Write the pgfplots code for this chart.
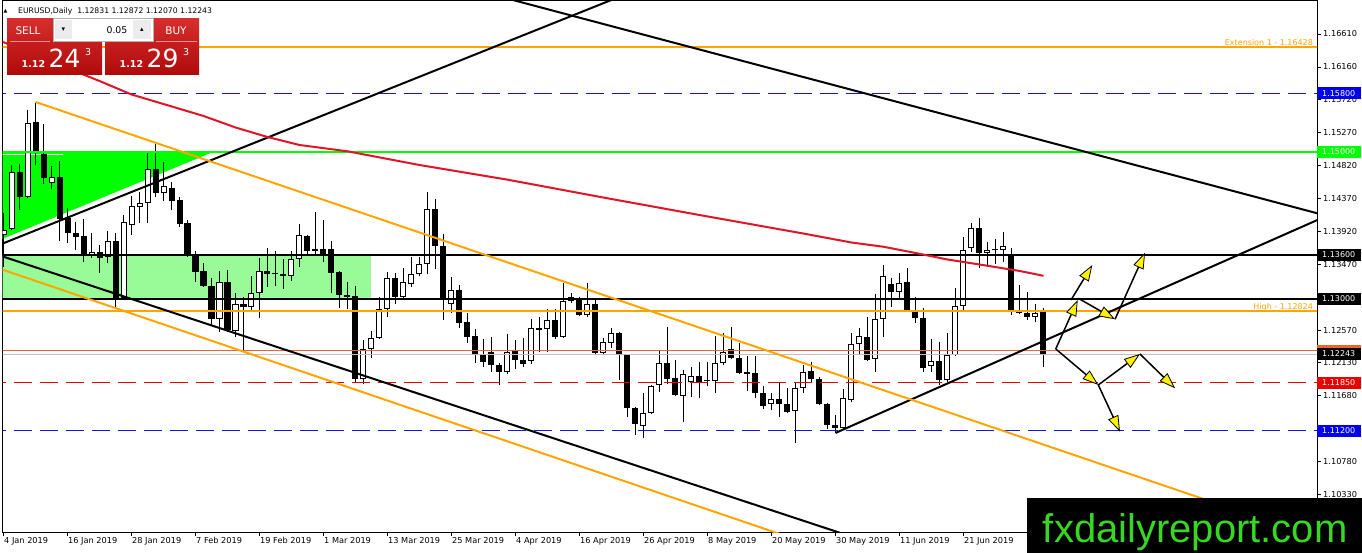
\documentclass[border=0pt]{standalone}
\usepackage{pgfplots}
\pgfplotsset{compat=1.18}
\usepackage{pgfplotstable}
\usepackage{fontspec}
\setmainfont{DejaVu Sans}
\newfontfamily\arialfont{Liberation Sans}
\usetikzlibrary{arrows.meta}
\definecolor{mtblue}{RGB}{20,20,235}
\definecolor{boxblue}{RGB}{0,0,235}
\definecolor{mtred}{RGB}{235,0,0}
\definecolor{mtgreen}{RGB}{0,255,0}
\definecolor{mtorange}{RGB}{255,165,0}
\definecolor{palegr}{RGB}{152,251,152}
\definecolor{mared}{RGB}{225,20,40}
\definecolor{thinor}{RGB}{235,100,50}
\definecolor{wmgreen}{RGB}{55,215,35}
\definecolor{pantop}{RGB}{215,45,45}
\definecolor{panbot}{RGB}{175,10,10}

\pgfplotstableread{
i O H L C
0 1.13868 1.14168 1.13431 1.13936
1 1.13949 1.14822 1.13936 1.14727
2 1.14727 1.14836 1.14209 1.14386
3 1.14386 1.15573 1.14372 1.15395
4 1.15409 1.15668 1.14822 1.15000
5 1.14972 1.15382 1.14563 1.14645
6 1.14577 1.14809 1.14495 1.14659
7 1.14659 1.14877 1.13786 1.14086
8 1.14099 1.14236 1.13758 1.13895
9 1.13895 1.14045 1.13663 1.13840
10 1.13854 1.14086 1.13499 1.13581
11 1.13581 1.13895 1.13554 1.13636
12 1.13636 1.13731 1.13349 1.13554
13 1.13568 1.13922 1.13486 1.13786
14 1.13786 1.13895 1.12886 1.12995
15 1.13008 1.14140 1.12995 1.14045
16 1.14004 1.14400 1.13868 1.14263
17 1.14250 1.14454 1.14031 1.14304
18 1.14304 1.14986 1.14031 1.14768
19 1.14768 1.15109 1.14386 1.14440
20 1.14440 1.14863 1.14331 1.14536
21 1.14509 1.14591 1.14209 1.14331
22 1.14345 1.14386 1.13977 1.14018
23 1.14031 1.14072 1.13568 1.13581
24 1.13581 1.13649 1.13227 1.13363
25 1.13377 1.13486 1.13158 1.13172
26 1.13172 1.13281 1.12640 1.12722
27 1.12722 1.13377 1.12545 1.13227
28 1.13227 1.13390 1.12545 1.12572
29 1.12558 1.13076 1.12476 1.12926
30 1.12926 1.13022 1.12299 1.12886
31 1.12886 1.13308 1.12831 1.13076
32 1.13076 1.13554 1.12735 1.13377
33 1.13377 1.13690 1.13158 1.13336
34 1.13336 1.13649 1.13172 1.13330
35 1.13336 1.13540 1.13131 1.13308
36 1.13308 1.13649 1.13240 1.13540
37 1.13540 1.14018 1.13431 1.13868
38 1.13854 1.13868 1.13581 1.13649
39 1.13677 1.14181 1.13581 1.13649
40 1.13677 1.14072 1.13499 1.13608
41 1.13677 1.13786 1.13076 1.13349
42 1.13363 1.13377 1.12872 1.13049
43 1.13049 1.13227 1.12858 1.13022
44 1.13036 1.13172 1.11849 1.11903
45 1.11903 1.12435 1.11835 1.12313
46 1.12313 1.12558 1.12190 1.12463
47 1.12463 1.13022 1.12449 1.12858
48 1.12858 1.13363 1.12749 1.13281
49 1.13281 1.13349 1.12926 1.13022
50 1.13022 1.13417 1.12981 1.13227
51 1.13199 1.13568 1.13158 1.13336
52 1.13336 1.13568 1.13308 1.13472
53 1.13472 1.14454 1.13336 1.14222
54 1.14222 1.14359 1.13404 1.13718
55 1.13718 1.13881 1.12708 1.12995
56 1.12926 1.13295 1.12804 1.13117
57 1.13117 1.13186 1.12599 1.12667
58 1.12681 1.12804 1.12394 1.12476
59 1.12490 1.12585 1.12122 1.12244
60 1.12244 1.12449 1.12067 1.12135
61 1.12272 1.12476 1.11999 1.12094
62 1.12094 1.12122 1.11822 1.11999
63 1.11999 1.12517 1.11972 1.12272
64 1.12285 1.12435 1.12040 1.12163
65 1.12163 1.12463 1.12067 1.12108
66 1.12149 1.12722 1.12108 1.12599
67 1.12599 1.12749 1.12272 1.12572
68 1.12585 1.12858 1.12272 1.12708
69 1.12708 1.12858 1.12449 1.12476
70 1.12476 1.13213 1.12463 1.12967
71 1.13022 1.13076 1.12940 1.12967
72 1.13008 1.13022 1.12763 1.12776
73 1.12776 1.13213 1.12749 1.12926
74 1.12926 1.12995 1.12231 1.12258
75 1.12258 1.12463 1.12244 1.12408
76 1.12394 1.12599 1.12326 1.12531
77 1.12531 1.12545 1.11890 1.12244
78 1.12231 1.12244 1.11385 1.11508
79 1.11508 1.11522 1.11140 1.11290
80 1.11262 1.11712 1.11099 1.11440
81 1.11440 1.11822 1.11426 1.11808
82 1.11822 1.12299 1.11726 1.12122
83 1.12122 1.12613 1.11835 1.11903
84 1.11917 1.12163 1.11672 1.11685
85 1.11672 1.12026 1.11317 1.11972
86 1.11863 1.12067 1.11658 1.11944
87 1.11944 1.12135 1.11644 1.11863
88 1.11876 1.12135 1.11808 1.11869
89 1.11876 1.12490 1.11712 1.12122
90 1.12122 1.12531 1.12094 1.12272
91 1.12313 1.12613 1.12176 1.12190
92 1.12190 1.12394 1.11972 1.11985
93 1.11999 1.12217 1.11740 1.11978
94 1.11985 1.12217 1.11644 1.11712
95 1.11712 1.11808 1.11494 1.11535
96 1.11562 1.11712 1.11481 1.11631
97 1.11631 1.11849 1.11385 1.11562
98 1.11562 1.11781 1.11440 1.11453
99 1.11467 1.11849 1.11030 1.11781
100 1.11781 1.12094 1.11712 1.11999
101 1.12013 1.12135 1.11849 1.11903
102 1.11903 1.11931 1.11549 1.11562
103 1.11562 1.11576 1.11221 1.11276
104 1.11276 1.11412 1.11167 1.11235
105 1.11235 1.11767 1.11221 1.11644
106 1.11617 1.12531 1.11590 1.12381
107 1.12381 1.12599 1.12244 1.12490
108 1.12476 1.12749 1.12149 1.12163
109 1.12176 1.13063 1.11999 1.12722
110 1.12722 1.13458 1.12476 1.13308
111 1.13199 1.13281 1.12886 1.13090
112 1.13090 1.13349 1.12995 1.13213
113 1.13227 1.13417 1.12817 1.12831
114 1.12845 1.13022 1.12667 1.12735
115 1.12735 1.12872 1.11999 1.12053
116 1.12081 1.12449 1.11999 1.12149
117 1.12149 1.12408 1.11822 1.11890
118 1.11890 1.12531 1.11863 1.12231
119 1.12231 1.13145 1.12217 1.12899
120 1.12899 1.13840 1.12817 1.13663
121 1.13690 1.14031 1.13636 1.13963
122 1.13963 1.14099 1.13417 1.13622
123 1.13622 1.13772 1.13431 1.13663
124 1.13663 1.13813 1.13472 1.13656
125 1.13663 1.13909 1.13499 1.13718
126 1.13581 1.13690 1.12776 1.12817
127 1.12817 1.13186 1.12790 1.12804
128 1.12804 1.13090 1.12708 1.12749
129 1.12749 1.12926 1.12681 1.12804
130 1.12831 1.12872 1.12070 1.12243
}\candles

\newcommand\pricebox[3]{%
  \fill[#2] ([yshift=-6pt]#1) rectangle ([xshift=44pt,yshift=6pt]#1);
  \node[anchor=west, inner sep=0pt, text=white, font=\fontsize{8}{9}\selectfont] at ([xshift=5pt]#1) {#3};}

\begin{document}
\begin{tikzpicture}[x=1pt,y=1pt]
\useasboundingbox (0,0) rectangle (1362,553);
\fill[white] (0,0) rectangle (1362,553);
\begin{axis}[
  at={(2.5pt,20.7pt)}, anchor=south west,
  scale only axis, width=1314.5pt, height=532.3pt,
  xmin=-0.125, xmax=164.19, ymin=1.09812, ymax=1.17073,
  axis line style={black, line width=0.8pt},
  tick align=outside,
  xtick pos=left, ytick pos=right,
  xticklabel pos=left, yticklabel pos=right,
  major tick length=4pt,
  tick style={black, line width=0.6pt},
  xtick={0,8,...,120},
  xticklabels={4 Jan 2019,16 Jan 2019,28 Jan 2019,7 Feb 2019,19 Feb 2019,1 Mar 2019,13 Mar 2019,25 Mar 2019,4 Apr 2019,16 Apr 2019,26 Apr 2019,8 May 2019,20 May 2019,30 May 2019,11 Jun 2019,21 Jun 2019},
  ytick={1.16610,1.16160,1.15720,1.15270,1.14820,1.14370,1.13920,1.13470,1.13020,1.12570,1.12130,1.11680,1.11230,1.10780,1.10330},
  yticklabels={1.16610,1.16160,1.15720,1.15270,1.14820,1.14370,1.13920,1.13470,1.13020,1.12570,1.12130,1.11680,1.11230,1.10780,1.10330},
  xticklabel style={anchor=north west, inner sep=0pt, xshift=0.5pt, yshift=-1pt, font=\fontsize{8.2}{9}\selectfont},
  yticklabel style={anchor=west, inner sep=0pt, xshift=2pt, font=\fontsize{8.2}{9}\selectfont},
]
% background zones
\addplot[fill=mtgreen, draw=none, forget plot] coordinates {(-1,1.15) (26.2,1.15) (-1,1.13775)} -- cycle;
\addplot[fill=palegr, draw=none, forget plot] coordinates {(-1,1.1360) (45.9,1.1360) (45.9,1.1300) (-1,1.1300)} -- cycle;
\addplot[white, line width=0.8pt, forget plot] coordinates {(-1,1.14972) (7.4,1.14972)};

% candles: wicks
\addplot[draw=none, mark=none, forget plot,
  error bars/.cd, y dir=plus, y explicit, error mark=none,
  error bar style={draw=black, line width=1pt, solid}]
  table[x=i, y=L, y error plus expr=\thisrow{H}-\thisrow{L}] {\candles};
% bodies
\addplot[draw=none, mark=none, forget plot,
  error bars/.cd, y dir=plus, y explicit, error mark=none,
  error bar style={draw=black, line width=6pt, solid}]
  table[x=i, y expr={min(\thisrow{O},\thisrow{C})}, y error plus expr={max(abs(\thisrow{C}-\thisrow{O}),0.000136)}] {\candles};
% white interior of bullish bodies
\addplot[draw=none, mark=none, forget plot,
  restrict expr to domain={\thisrow{C}-\thisrow{O}}{0.0003:1},
  error bars/.cd, y dir=plus, y explicit, error mark=none,
  error bar style={draw=white, line width=4pt, solid}]
  table[x=i, y expr={\thisrow{O}+0.000136}, y error plus expr={\thisrow{C}-\thisrow{O}-0.000272}] {\candles};

% horizontal levels
\addplot[mtorange, line width=2pt, forget plot] coordinates {(-2,1.16428) (170,1.16428)};
\addplot[mtblue, line width=1pt, dash pattern=on 18pt off 8pt, forget plot] coordinates {(-2,1.158) (170,1.158)};
\addplot[mtgreen, line width=2pt, forget plot] coordinates {(-2,1.15) (170,1.15)};
\addplot[black, line width=2pt, forget plot] coordinates {(-2,1.136) (170,1.136)};
\addplot[black, line width=2pt, forget plot] coordinates {(-2,1.130) (170,1.130)};
\addplot[mtorange, line width=2pt, forget plot] coordinates {(-2,1.12824) (170,1.12824)};
\addplot[thinor, line width=0.8pt, forget plot] coordinates {(-2,1.12290) (170,1.12290)};
\addplot[gray!50, line width=0.8pt, forget plot] coordinates {(-2,1.12243) (170,1.12243)};
\addplot[mtred, line width=1pt, dash pattern=on 18pt off 8pt, forget plot] coordinates {(-2,1.1185) (170,1.1185)};
\addplot[mtblue, line width=1pt, dash pattern=on 18pt off 8pt, forget plot] coordinates {(-2,1.112) (170,1.112)};

% trend lines and channels
\addplot[black, line width=2pt, forget plot] coordinates {(60,1.17179) (166,1.14112)};
\addplot[black, line width=2pt, forget plot] coordinates {(-1,1.13607) (105,1.09789)};
\addplot[black, line width=2pt, forget plot] coordinates {(-1,1.13712) (80,1.17248)};
\addplot[black, line width=2pt, forget plot] coordinates {(104,1.11167) (166,1.14157)};
\addplot[mtorange, line width=2pt, forget plot] coordinates {(4,1.15682) (166,1.09673)};
\addplot[mtorange, line width=2pt, forget plot] coordinates {(-1,1.13427) (100,1.09679)};

% moving average
\addplot[mared, line width=2pt, forget plot] coordinates {
(-1,1.16542) (5,1.16274) (12,1.15968) (16,1.15784) (20,1.15654) (25,1.15491) (29,1.15334)
(33,1.15204) (37,1.15095) (43,1.15009) (52,1.14822) (63,1.14622) (75,1.14378) (87,1.14140)
(100,1.13887) (106,1.13765) (110,1.13707) (114,1.13622) (118,1.13533) (122,1.13465) (127,1.13377) (130,1.13311)};

% scenario arrows
\pgfplotsset{scen/.style={black, line width=1.5pt, forget plot, -{Triangle[length=16pt, width=11pt, fill=yellow, line width=0.8pt]}}}
\addplot[scen] coordinates {(131.53,1.12313) (134.28,1.12981)};
\addplot[scen] coordinates {(133.44,1.12981) (136.10,1.13458)};
\addplot[scen] coordinates {(134.35,1.13004) (138.94,1.12718)};
\addplot[scen] coordinates {(138.94,1.12718) (142.69,1.13626)};
\addplot[scen] coordinates {(131.53,1.12313) (136.85,1.11822)};
\addplot[scen] coordinates {(136.85,1.11822) (142.06,1.12244)};
\addplot[scen] coordinates {(142.06,1.12244) (146.44,1.11777)};
\addplot[scen] coordinates {(136.85,1.11822) (139.56,1.11185)};

% in-chart labels
\node[anchor=base east, inner sep=0pt, text=mtorange, font=\fontsize{8}{9}\selectfont, yshift=2pt] at (axis cs:163.7,1.16428) {Extension 1 - 1.16428};
\node[anchor=base east, inner sep=0pt, text=mtorange, font=\fontsize{8}{9}\selectfont, yshift=2pt] at (axis cs:163.7,1.12824) {High - 1.12824};

\coordinate (b1) at (axis cs:164.19,1.158);
\coordinate (b2) at (axis cs:164.19,1.150);
\coordinate (b3) at (axis cs:164.19,1.136);
\coordinate (b4) at (axis cs:164.19,1.130);
\coordinate (b5) at (axis cs:164.19,1.12290);
\coordinate (b6) at (axis cs:164.19,1.12243);
\coordinate (b7) at (axis cs:164.19,1.1185);
\coordinate (b8) at (axis cs:164.19,1.112);
\end{axis}

% price boxes on the right scale
\pricebox{b1}{boxblue}{1.15800}
\pricebox{b2}{mtgreen}{1.15000}
\pricebox{b3}{black}{1.13600}
\pricebox{b4}{black}{1.13000}
\fill[thinor] ([yshift=-6pt]b5) rectangle ([xshift=44pt,yshift=6pt]b5);
\pricebox{b6}{black}{1.12243}
\pricebox{b7}{mtred}{1.11850}
\pricebox{b8}{boxblue}{1.11200}

% header
\node[anchor=base west, inner sep=0pt, font=\fontsize{5}{6}\selectfont] at (3.5,540) {▲};
\node[anchor=base west, inner sep=0pt, font=\fontsize{7.7}{9}\selectfont] at (18,539.5) {EURUSD,Daily\ \ 1.12831 1.12872 1.12070 1.12243};

% trade panel
\shade[top color=pantop, bottom color=panbot] (7,534) rectangle (102,478);
\shade[top color=pantop, bottom color=panbot] (105,534) rectangle (199,478);
\fill[white] (53,535) rectangle (153,512);
\draw[gray!60, line width=0.6pt] (53,535) rectangle (153,512);
\fill[gray!15] (55,533) rectangle (72,514);
\fill[gray!15] (133,533) rectangle (151,514);
\node[inner sep=0pt, font=\fontsize{7}{8}\selectfont] at (63.5,523.5) {▾};
\node[inner sep=0pt, font=\fontsize{7}{8}\selectfont] at (142,523.5) {▴};
\node[anchor=east, inner sep=0pt, font=\fontsize{9.3}{11}\selectfont] at (127.5,523) {0.05};
\node[inner sep=0pt, text=white, font=\fontsize{10.5}{12}\selectfont] at (28,522) {SELL};
\node[inner sep=0pt, text=white, font=\fontsize{10.5}{12}\selectfont] at (176,522) {BUY};
\draw[white, opacity=0.5, line width=0.6pt] (10,511.5) -- (50,511.5);
\draw[white, opacity=0.5, line width=0.6pt] (156,511.5) -- (197,511.5);
\node[anchor=base west, inner sep=0pt, text=white, font=\bfseries\fontsize{9.5}{11}\selectfont] at (21.5,485) {1.12};
\node[anchor=base west, inner sep=0pt, text=white, font=\fontsize{25}{28}\selectfont] at (48.5,485) {24};
\node[anchor=base west, inner sep=0pt, text=white, font=\fontsize{9.5}{11}\selectfont] at (85,497) {3};
\node[anchor=base west, inner sep=0pt, text=white, font=\bfseries\fontsize{9.5}{11}\selectfont] at (119.5,485) {1.12};
\node[anchor=base west, inner sep=0pt, text=white, font=\fontsize{25}{28}\selectfont] at (146.5,485) {29};
\node[anchor=base west, inner sep=0pt, text=white, font=\fontsize{9.5}{11}\selectfont] at (183,497) {3};

% watermark
\fill[black] (1026.5,0) rectangle (1362,54.5);
\node[anchor=base west, inner sep=0pt, text=wmgreen, font=\arialfont\fontsize{40}{44}\selectfont] at (1042.7,10.3) {fxdailyreport.com};
\end{tikzpicture}
\end{document}
